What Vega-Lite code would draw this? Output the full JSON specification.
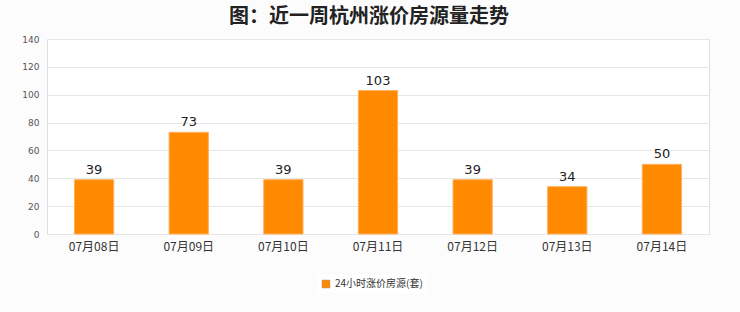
{
  "$schema": "https://vega.github.io/schema/vega-lite/v6.json",
  "autosize": "none",
  "width": 662,
  "height": 195,
  "padding": {"left": 47, "top": 39, "right": 31, "bottom": 78},
  "background": "#FCFCFC",
  "title": {
    "text": "图：近一周杭州涨价房源量走势",
    "font": "Noto Sans CJK SC",
    "fontSize": 20,
    "fontWeight": "bold",
    "color": "#222222",
    "anchor": "middle",
    "dx": -9,
    "offset": 8
  },
  "data": {
    "values": [
      {"date": "07月08日", "value": 39, "series": "24小时涨价房源(套)"},
      {"date": "07月09日", "value": 73, "series": "24小时涨价房源(套)"},
      {"date": "07月10日", "value": 39, "series": "24小时涨价房源(套)"},
      {"date": "07月11日", "value": 103, "series": "24小时涨价房源(套)"},
      {"date": "07月12日", "value": 39, "series": "24小时涨价房源(套)"},
      {"date": "07月13日", "value": 34, "series": "24小时涨价房源(套)"},
      {"date": "07月14日", "value": 50, "series": "24小时涨价房源(套)"}
    ]
  },
  "encoding": {
    "x": {
      "field": "date",
      "type": "nominal",
      "sort": null,
      "scale": {"paddingInner": 0.585, "paddingOuter": 0.29},
      "axis": {
        "title": null,
        "labelAngle": 0,
        "ticks": false,
        "domain": false,
        "labelFont": "Noto Sans CJK SC",
        "labelFontSize": 12,
        "labelColor": "#333333",
        "labelPadding": 7
      }
    },
    "y": {
      "field": "value",
      "type": "quantitative",
      "scale": {"domain": [0, 140], "nice": false},
      "axis": {
        "title": null,
        "values": [0, 20, 40, 60, 80, 100, 120, 140],
        "ticks": false,
        "domain": false,
        "gridColor": "#E6E6E6",
        "labelFont": "DejaVu Sans",
        "labelFontSize": 9,
        "labelColor": "#555555",
        "labelPadding": 8
      }
    }
  },
  "layer": [
    {
      "mark": {"type": "bar", "stroke": "#FFB060", "strokeWidth": 1},
      "encoding": {
        "color": {
          "field": "series",
          "type": "nominal",
          "scale": {"range": ["#FF8A00"]},
          "legend": {
            "title": null,
            "orient": "none",
            "legendX": 270,
            "legendY": 236,
            "symbolType": "square",
            "symbolSize": 64,
            "symbolStrokeColor": "#999999",
            "symbolStrokeWidth": 0.5,
            "labelFont": "Noto Sans CJK SC",
            "labelFontSize": 10,
            "labelColor": "#333333",
            "fillColor": "white",
            "padding": 4
          }
        }
      }
    },
    {
      "mark": {
        "type": "text",
        "baseline": "bottom",
        "dy": -3,
        "font": "DejaVu Sans",
        "fontSize": 13,
        "color": "#222222"
      },
      "encoding": {"text": {"field": "value", "type": "quantitative"}}
    }
  ],
  "config": {
    "view": {"stroke": "#E0E0E0", "fill": "white"}
  }
}
